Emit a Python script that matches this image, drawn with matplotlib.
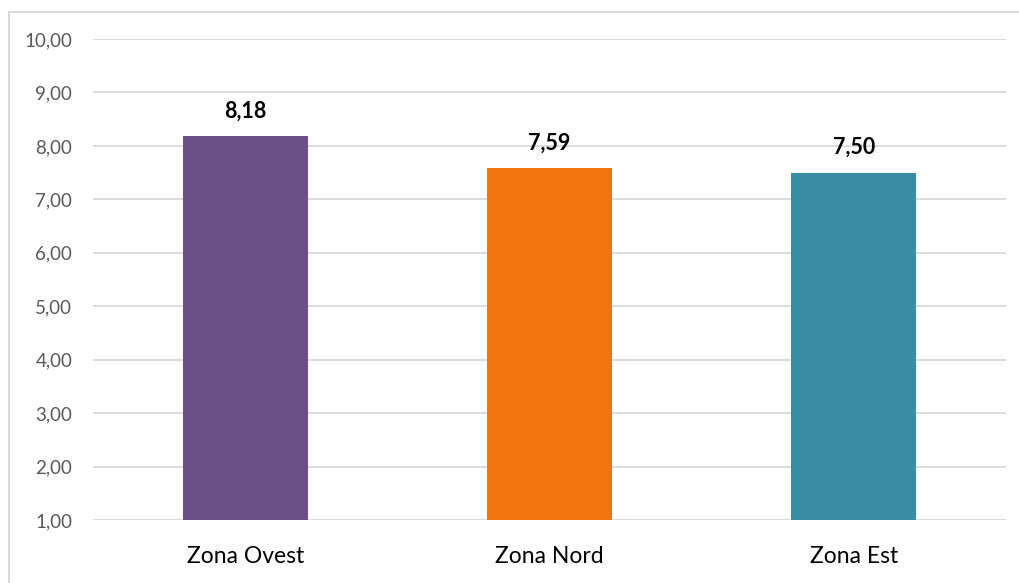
import matplotlib.pyplot as plt
from matplotlib.patches import Rectangle
from matplotlib.ticker import FuncFormatter

zone = ["Zona Ovest", "Zona Nord", "Zona Est"]
valori = [8.18, 7.59, 7.50]
colori = ["#6A5087", "#F07511", "#3A8DA6"]

plt.rcParams['font.family'] = ['Lato', 'DejaVu Sans']

fig = plt.figure(figsize=(10.2, 5.83), dpi=100)
ax = fig.add_axes([93 / 1020, 1 - 520 / 583, (1006 - 93) / 1020, (520 - 39) / 583])

# cornice del grafico
fig.patches.append(Rectangle((9 / 1020, -0.05), 1.2, 1 - 12 / 583 + 0.05,
                             transform=fig.transFigure, fill=False,
                             edgecolor="#D9D9D9", linewidth=1.5))

x = range(len(zone))
ax.bar(x, [v - 1 for v in valori], bottom=1, width=0.41, color=colori, zorder=3)

for xi, v in zip(x, valori):
    ax.text(xi, v + 0.27, f"{v:.2f}".replace(".", ","), ha="center", va="bottom",
            fontsize=15.5, fontweight="bold", color="black")

ax.set_ylim(1, 10)
ax.set_xlim(-0.5, 2.5)
ax.set_yticks(range(1, 11))
ax.yaxis.set_major_formatter(FuncFormatter(lambda v, p: f"{v:.2f}".replace(".", ",")))
ax.grid(axis="y", color="#D9D9D9", linewidth=1.3, zorder=0)
ax.set_xticks(list(x))
ax.set_xticklabels(zone, fontsize=16.5, color="black")
ax.tick_params(axis="x", length=0, pad=19)
ax.tick_params(axis="y", length=0, pad=15, labelsize=13.5, labelcolor="#595959")
for s in ax.spines.values():
    s.set_visible(False)

fig.savefig("out.png", dpi=100)
